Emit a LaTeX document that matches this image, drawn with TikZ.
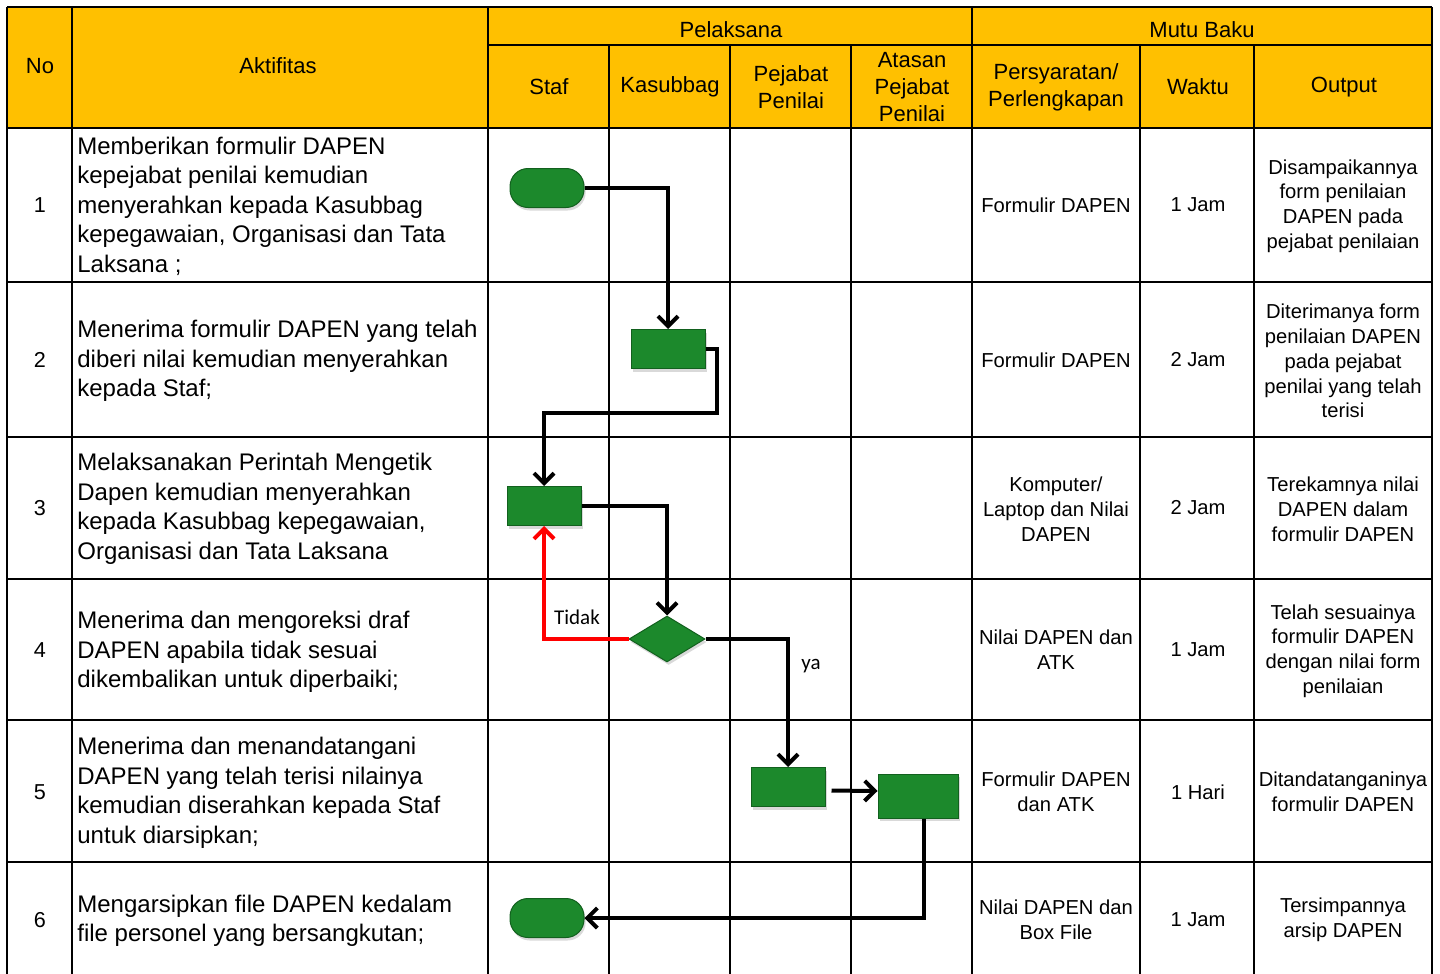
\documentclass[tikz,border=0pt]{standalone}
\usepackage{fontspec}
\setmainfont{Liberation Sans}
\newfontfamily\calibri{Carlito}
\usepackage{xcolor}
\usetikzlibrary{arrows.meta,shapes.geometric,shadows}
\definecolor{HeadGold}{RGB}{255,192,0}
\definecolor{FlowGreen}{RGB}{28,137,44}
\definecolor{FlowLight}{RGB}{110,205,112}
\definecolor{FlowDark}{RGB}{18,96,30}
\pgfdeclareverticalshading{bevel}{100bp}{color(0bp)=(FlowDark); color(18bp)=(FlowGreen); color(80bp)=(FlowGreen); color(100bp)=(FlowLight)}

\begin{document}
\begin{tikzpicture}[
  x=0.5pt,y=-0.5pt,
  >={Straight Barb[length=5pt,width=10pt]},
  rule/.style={line width=1pt},
  head/.style={align=center,inner sep=0pt,font=\fontsize{11}{13.5}\selectfont},
  act/.style={anchor=west,align=left,inner sep=0pt,font=\fontsize{12}{14.75}\selectfont},
  num/.style={inner sep=0pt,font=\fontsize{10.8}{13}\selectfont},
  cell/.style={align=center,inner sep=0pt,font=\fontsize{10.1}{12.4}\selectfont},
  proc/.style={draw=FlowDark,line width=0.5pt,shade,shading=bevel,inner sep=0pt,
    minimum width=37pt,minimum height=19.5pt,
    drop shadow={opacity=0.3,shadow xshift=0.8pt,shadow yshift=-1.5pt}},
  term/.style={proc,rounded corners=9pt},
  decide/.style={proc,diamond,minimum width=38pt,minimum height=23pt},
  flow/.style={->,line width=2pt},
  back/.style={flow,red},
  tag/.style={inner sep=0pt,font=\calibri\fontsize{10.5}{12}\selectfont}
]
\useasboundingbox (0,0) rectangle (1440,974);
\fill[HeadGold] (7,7) rectangle (1432,128);

\draw[rule] (7,7) -- (1432,7);
\draw[rule] (488,45) -- (1432,45);
\foreach \y in {128,282,437,579,720,862}
  \draw[rule] (7,\y) -- (1432,\y);
\foreach \x in {7,72,488,972,1432}
  \draw[rule] (\x,7) -- (\x,974);
\foreach \x in {609,730,851,1140,1254}
  \draw[rule] (\x,45) -- (\x,974);

\node[head] (hno) at (40,66) {No};
\node[head] (hakt) at (278,66) {Aktifitas};
\node[head] (hpel) at (731,30) {Pelaksana};
\node[head] (hmutu) at (1202,30) {Mutu Baku};
\node[head] (hstaf) at (549,87) {Staf};
\node[head] (hkas) at (670,87) {Kasubbag};
\node[head] (hpej) at (791,87) {Pejabat\\Penilai};
\node[head] (hatas) at (912,87) {Atasan\\Pejabat\\Penilai};
\node[head] (hsyarat) at (1056,87) {Persyaratan/\\Perlengkapan};
\node[head] (hwaktu) at (1198,87) {Waktu};
\node[head] (hout) at (1344,87) {Output};

\node[num] (n1) at (40,205) {1};
\node[num] (n2) at (40,360) {2};
\node[num] (n3) at (40,508) {3};
\node[num] (n4) at (40,650) {4};
\node[num] (n5) at (40,792) {5};
\node[num] (n6) at (40,920) {6};

\node[act] (a1) at (77,206) {Memberikan formulir DAPEN\\kepejabat penilai kemudian\\menyerahkan kepada Kasubbag\\kepegawaian, Organisasi dan Tata\\Laksana ;};
\node[act] (a2) at (77,361) {Menerima formulir DAPEN yang telah\\diberi nilai kemudian menyerahkan\\kepada Staf;};
\node[act] (a3) at (77,509) {Melaksanakan Perintah Mengetik\\Dapen kemudian menyerahkan\\kepada Kasubbag kepegawaian,\\Organisasi dan Tata Laksana};
\node[act] (a4) at (77,652) {Menerima dan mengoreksi draf\\DAPEN apabila tidak sesuai\\dikembalikan untuk diperbaiki;};
\node[act] (a5) at (77,793) {Menerima dan menandatangani\\DAPEN yang telah terisi nilainya\\kemudian diserahkan kepada Staf\\untuk diarsipkan;};
\node[act] (a6) at (77,921) {Mengarsipkan file DAPEN kedalam\\file personel yang bersangkutan;};

\node[cell] (s1) at (1056,205) {Formulir DAPEN};
\node[cell] (s2) at (1056,360) {Formulir DAPEN};
\node[cell] (s3) at (1056,509) {Komputer/\\Laptop dan Nilai\\DAPEN};
\node[cell] (s4) at (1056,650) {Nilai DAPEN dan\\ATK};
\node[cell] (s5) at (1056,792) {Formulir DAPEN\\dan ATK};
\node[cell] (s6) at (1056,920) {Nilai DAPEN dan\\Box File};

\node[cell] (w1) at (1198,205) {1 Jam};
\node[cell] (w2) at (1198,360) {2 Jam};
\node[cell] (w3) at (1198,508) {2 Jam};
\node[cell] (w4) at (1198,650) {1 Jam};
\node[cell] (w5) at (1198,792) {1 Hari};
\node[cell] (w6) at (1198,920) {1 Jam};

\node[cell] (o1) at (1343,206) {Disampaikannya\\form penilaian\\DAPEN pada\\pejabat penilaian};
\node[cell] (o2) at (1343,361) {Diterimanya form\\penilaian DAPEN\\pada pejabat\\penilai yang telah\\terisi};
\node[cell] (o3) at (1343,509) {Terekamnya nilai\\DAPEN dalam\\formulir DAPEN};
\node[cell] (o4) at (1343,651) {Telah sesuainya\\formulir DAPEN\\dengan nilai form\\penilaian};
\node[cell] (o5) at (1343,792) {Ditandatanganinya\\formulir DAPEN};
\node[cell] (o6) at (1343,920) {Tersimpannya\\arsip DAPEN};

\node[term] (start) at (547,188) {};
\node[proc] (kirim) at (668,349) {};
\node[proc] (ketik) at (544,506) {};
\node[decide] (koreksi) at (667,639) {};
\node[proc] (tanda) at (788,787) {};
\node[proc,minimum width=40pt,minimum height=22pt] (atasan) at (918,796) {};
\node[term] (arsip) at (547,918) {};
\coordinate (belok) at (717,413);

\draw[flow] (start.east) -| (kirim.north);
\draw[flow] (kirim.east) -| (belok) -| (ketik.north);
\draw[flow] (ketik.east) -| (koreksi.north);
\draw[back] (koreksi.west) -| (ketik.south);
\draw[flow] (koreksi.east) -| (tanda.north);
\draw[flow,shorten <=3pt] ([yshift=-1.75pt]tanda.east) -- ([yshift=2.5pt]atasan.west);
\draw[flow] ([xshift=3pt]atasan.south) |- (arsip.east);
\node[tag] (tidak) at (577,617) {Tidak};
\node[tag] (ya) at (811,666) {ya};
\end{tikzpicture}
\end{document}
